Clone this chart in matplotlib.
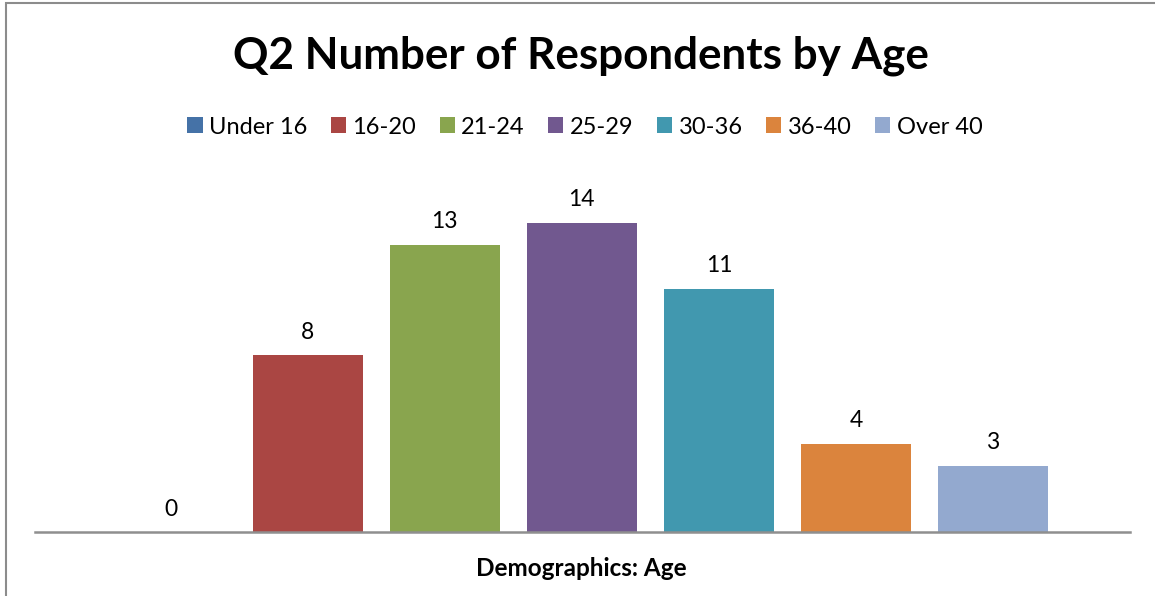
import matplotlib
matplotlib.use("Agg")
import matplotlib.pyplot as plt
from matplotlib.patches import Rectangle, Patch

categories = ["Under 16", "16-20", "21-24", "25-29", "30-36", "36-40", "Over 40"]
values = [0, 8, 13, 14, 11, 4, 3]
colors = ["#4572A7", "#AA4643", "#89A54E", "#71588F", "#4198AF", "#DB843D", "#93A9CF"]
title = "Q2 Number of Respondents by Age"
xlabel = "Demographics: Age"

FONT = "Lato"
W, H = 1155, 596
fig = plt.figure(figsize=(W / 100, H / 100), dpi=100)

# outer chart border
fig.add_artist(Rectangle((5.5 / W, -0.05), 1.2, 1 - 3.5 / H + 0.05,
                         transform=fig.transFigure, fill=False,
                         edgecolor="#8C8C8C", linewidth=1.5, clip_on=False))

ax_left, ax_right = 35 / W, 1130 / W
ax_bottom = 1 - 532 / H
ymax = 16
ax_top = 1 - (532 - ymax * 22.1) / H
ax = fig.add_axes([ax_left, ax_bottom, ax_right - ax_left, ax_top - ax_bottom])

x = list(range(len(categories)))
bars = ax.bar(x, values, width=0.8, color=colors, zorder=2)
for xi, v in zip(x, values):
    ax.annotate(str(v), (xi, v), xytext=(0, 9), textcoords="offset points",
                ha="center", va="bottom", fontsize=16.5, family=FONT, color="black")

ax.set_xlim(-0.99, 7.0)
ax.set_ylim(0, ymax)
for s in ["top", "right", "left"]:
    ax.spines[s].set_visible(False)
ax.spines["bottom"].set_color("#8F8F8F")
ax.spines["bottom"].set_linewidth(1.8)
ax.set_xticks([])
ax.set_yticks([])

fig.text(581 / W, 1 - 56 / H, title, ha="center", va="center",
         fontsize=31.7, fontweight="bold", family=FONT)
fig.text(581 / W, 1 - 568 / H, xlabel, ha="center", va="center",
         fontsize=17.5, fontweight="bold", family=FONT)

handles = [Patch(facecolor=c, edgecolor="none") for c in colors]
fig.legend(handles, categories, loc="center", bbox_to_anchor=(585 / W, 1 - 127 / H),
           ncol=7, frameon=False, prop={"family": FONT, "size": 17},
           handlelength=0.64, handleheight=0.64, handletextpad=0.27, columnspacing=1.0,
           borderaxespad=0)

fig.savefig("out.png", dpi=100)
